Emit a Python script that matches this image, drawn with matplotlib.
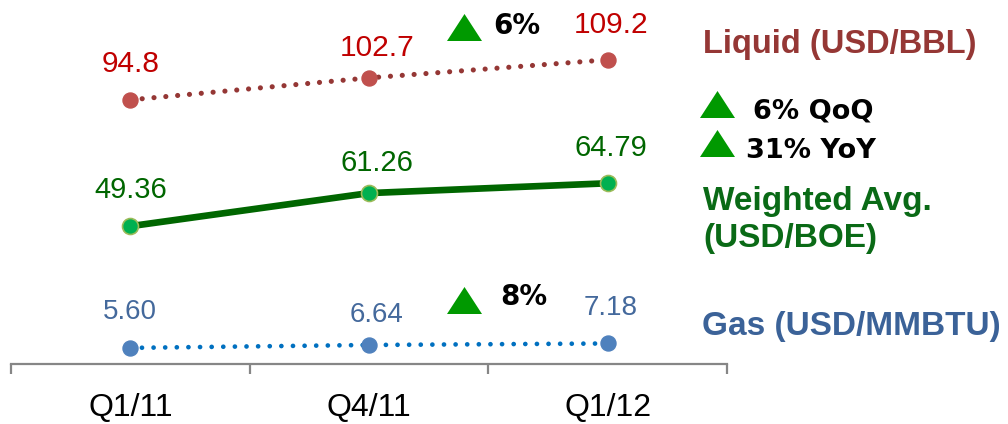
import matplotlib
matplotlib.use("Agg")
import matplotlib.pyplot as plt
from matplotlib.patches import Polygon

W, H = 1008, 424

quarters = ["Q1/11", "Q4/11", "Q1/12"]
liquid = [94.8, 102.7, 109.2]
weighted = [49.36, 61.26, 64.79]
gas = [5.60, 6.64, 7.18]

liquid_labels = ["94.8", "102.7", "109.2"]
weighted_labels = ["49.36", "61.26", "64.79"]
gas_labels = ["5.60", "6.64", "7.18"]

# small nudges for the value labels, pixels (dx, dy) per quarter
label_nudge = [(0, 36), (8, 30), (3, 35)]


def fx(x):
    return x / W


def fy(y):
    return 1 - y / H


fig = plt.figure(figsize=(W / 100, H / 100), dpi=100)
ax = fig.add_axes([fx(11), fy(364), fx(727) - fx(11), fy(0) - fy(364)])
ax.set_xlim(-0.5, 2.5)
ax.set_ylim(-0.2, 130.7)

x = range(len(quarters))

# liquid: dotted dark red line, red markers
ax.plot(x, liquid, color="#953735", lw=3.7, linestyle=(0, (0.01, 2.3)),
        dash_capstyle="round", zorder=2)
ax.plot(x, liquid, "o", color="#C0504D", ms=10.8, mec="#C0504D", zorder=3)

# weighted average: thick solid green
ax.plot(x, weighted, color="#006600", lw=4.8, zorder=2)
ax.plot(x, weighted, "o", color="#00B050", ms=11.5, mec="#9BBB59", mew=1.2, zorder=3)

# gas: dotted blue line
ax.plot(x, gas, color="#0070C0", lw=3.4, linestyle=(0, (0.01, 2.45)),
        dash_capstyle="round", zorder=2)
ax.plot(x, gas, "o", color="#4F81BD", ms=10.8, mec="#4F81BD", zorder=3)

series = [
    (liquid, liquid_labels, "#C00000", 21.5),
    (weighted, weighted_labels, "#006600", 21),
    (gas, gas_labels, "#44699C", 20),
]
for vals, labels, col, size in series:
    for i, (v, lab) in enumerate(zip(vals, labels)):
        dx, dy = label_nudge[i]
        ax.annotate(lab, (i, v), xytext=(dx, dy), textcoords="offset pixels",
                    ha="center", va="center", color=col, fontsize=size,
                    family="Liberation Sans")

for s in ["top", "right", "left"]:
    ax.spines[s].set_visible(False)
ax.spines["bottom"].set_color("#868686")
ax.spines["bottom"].set_linewidth(1.6)
ax.set_yticks([])
ax.set_xticks([-0.5, 0.5, 1.5, 2.5])
ax.set_xticklabels([])
ax.tick_params(axis="x", which="major", direction="out", length=7.5,
               width=1.6, color="#868686")
ax.set_xticks(list(x), minor=True)
ax.set_xticklabels(quarters, minor=True, fontsize=23, family="Liberation Sans")
ax.tick_params(axis="x", which="minor", length=0, pad=21)


def triangle(x0, x1, top, bottom):
    pts = [(fx(x0), fy(bottom)), (fx(x1), fy(bottom)), (fx((x0 + x1) / 2), fy(top))]
    fig.add_artist(Polygon(pts, closed=True, transform=fig.transFigure,
                           facecolor="#009900", edgecolor="none"))


triangle(447, 482, 14, 41)
triangle(700, 735, 91, 118)
triangle(700, 735, 130, 157)
triangle(447, 482, 287, 314)

bold = dict(fontweight="bold", va="center", ha="left")
fig.text(fx(493), fy(26), "6%", fontsize=20, family="DejaVu Sans", color="black", **bold)
fig.text(fx(753), fy(111), "6% QoQ", fontsize=19.5, family="DejaVu Sans", color="black", **bold)
fig.text(fx(746), fy(151), "31% YoY", fontsize=19.5, family="DejaVu Sans", color="black", **bold)
fig.text(fx(500), fy(297), "8%", fontsize=20, family="DejaVu Sans", color="black", **bold)

fig.text(fx(703), fy(45), "Liquid (USD/BBL)", fontsize=23.5,
         family="Liberation Sans", color="#953735", **bold)
fig.text(fx(703), fy(220), "Weighted Avg.\n(USD/BOE)", fontsize=24,
         family="Liberation Sans", color="#0A6A16", linespacing=1.27, **bold)
fig.text(fx(702), fy(327), "Gas (USD/MMBTU)", fontsize=24,
         family="Liberation Sans", color="#3B6298", **bold)

fig.savefig("out.png", dpi=100)
